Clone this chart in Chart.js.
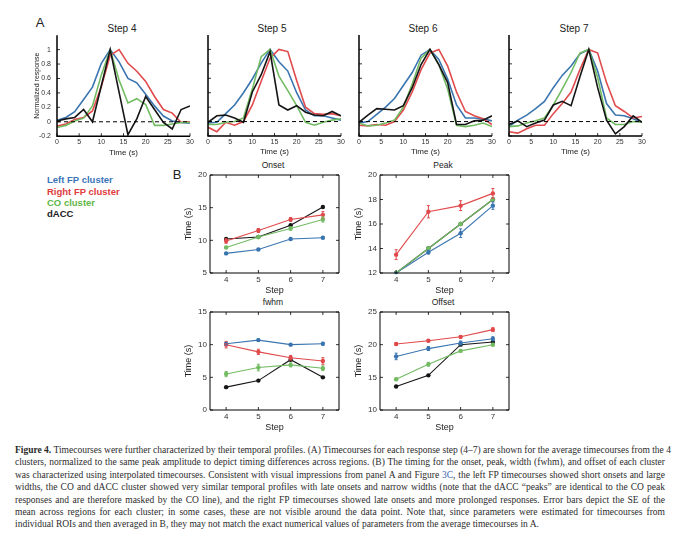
<!DOCTYPE html>
<html><head><meta charset="utf-8">
<script src="https://cdn.jsdelivr.net/npm/chart.js@4.4.1/dist/chart.umd.min.js"></script>
<style>
html,body{margin:0;padding:0;background:#fff;}
body{width:696px;height:560px;position:relative;overflow:hidden;font-family:"Liberation Sans",Arial,sans-serif;color:#222;}
.abs{position:absolute;}
.ctr{position:absolute;transform:translate(-50%,-50%);white-space:nowrap;}
.lg{position:absolute;font-weight:bold;font-size:9.5px;white-space:nowrap;transform:translateY(-50%);}
#cap{position:absolute;left:15px;top:444px;width:650px;font-family:"Liberation Serif","Times New Roman",serif;font-size:9.5px;line-height:12.4px;color:#2b2b2b;}
#cap div{text-align:justify;text-align-last:justify;white-space:nowrap;}
#cap div.last{text-align:left;text-align-last:left;}
</style></head><body>

<div class="ctr" style="left:40px;top:22px;font-size:13px;">A</div>
<div class="ctr" style="left:177px;top:174px;font-size:13px;">B</div>

<div class="ctr" style="left:122px;top:28px;font-size:10px;">Step 4</div>
<div class="ctr" style="left:272px;top:28px;font-size:10px;">Step 5</div>
<div class="ctr" style="left:423px;top:28px;font-size:10px;">Step 6</div>
<div class="ctr" style="left:574px;top:28px;font-size:10px;">Step 7</div>

<div class="ctr" style="left:273px;top:165px;font-size:8.5px;">Onset</div>
<div class="ctr" style="left:443px;top:165px;font-size:8.5px;">Peak</div>
<div class="ctr" style="left:273px;top:302px;font-size:8.5px;">fwhm</div>
<div class="ctr" style="left:443px;top:302px;font-size:8.5px;">Offset</div>

<div class="lg" style="left:47px;top:179px;color:#3a75b9;">Left FP cluster</div>
<div class="lg" style="left:47px;top:190.5px;color:#e03c3c;">Right FP cluster</div>
<div class="lg" style="left:47px;top:201.5px;color:#62b548;">CO cluster</div>
<div class="lg" style="left:47px;top:212.5px;color:#1a1a1a;">dACC</div>

<div id="cap">
<div><b>Figure 4.</b> Timecourses were further characterized by their temporal profiles. (A) Timecourses for each response step (4–7) are shown for the average timecourses from the 4</div>
<div>clusters, normalized to the same peak amplitude to depict timing differences across regions. (B) The timing for the onset, peak, width (fwhm), and offset of each cluster</div>
<div>was characterized using interpolated timecourses. Consistent with visual impressions from panel A and Figure <span style="color:#3a62b0">3C</span>, the left FP timecourses showed short onsets and large</div>
<div>widths, the CO and dACC cluster showed very similar temporal profiles with late onsets and narrow widths (note that the dACC “peaks” are identical to the CO peak</div>
<div>responses and are therefore masked by the CO line), and the right FP timecourses showed late onsets and more prolonged responses. Error bars depict the SE of the</div>
<div>mean across regions for each cluster; in some cases, these are not visible around the data point. Note that, since parameters were estimated for timecourses from</div>
<div class="last">individual ROIs and then averaged in B, they may not match the exact numerical values of parameters from the average timecourses in A.</div>
</div>

<script>
// ---------- DATA ----------
const times = [0,2,4,6,8,10,12,14,16,18,20,22,24,26,28,30];
const timeTicks = [0,5,10,15,20,25,30];
const respTicks = [-0.2,0,0.2,0.4,0.6,0.8,1];

// Panel A: normalized timecourses (Left FP = blue, Right FP = red, CO = green, dACC = black)
const step4Left  = [0.02,0.06,0.14,0.31,0.48,0.81,1.0,0.83,0.60,0.54,0.38,0.22,0.08,0.01,-0.01,-0.02];
const step4Right = [-0.06,-0.03,0.03,0.06,0.15,0.49,0.92,1.0,0.81,0.70,0.56,0.35,0.17,0.12,-0.01,0.0];
const step4CO    = [-0.08,-0.05,0.01,0.05,0.22,0.65,1.0,0.58,0.26,0.32,0.24,-0.05,-0.05,-0.03,-0.01,-0.01];
const step4dACC  = [0.01,0.04,0.06,0.17,0.0,0.50,1.0,0.41,-0.18,0.04,0.35,0.17,-0.01,-0.10,0.17,0.22];

const step5Left  = [-0.02,-0.01,0.11,0.23,0.40,0.59,0.81,1.0,0.83,0.70,0.40,0.16,0.08,0.08,0.05,0.02];
const step5Right = [-0.08,-0.14,-0.01,-0.05,0.0,0.23,0.56,0.88,1.0,0.97,0.57,0.20,0.11,0.10,0.11,0.08];
const step5CO    = [-0.04,-0.04,-0.01,0.0,0.05,0.45,0.90,1.0,0.63,0.43,0.22,-0.01,-0.05,-0.01,0.02,0.04];
const step5dACC  = [-0.01,0.08,0.09,0.05,-0.01,0.41,0.65,0.97,0.23,0.16,0.22,0.13,0.09,0.08,0.14,0.08];

const step6Left  = [-0.02,0.0,0.10,0.20,0.32,0.50,0.68,0.92,1.0,0.86,0.59,0.23,0.05,0.05,0.04,0.01];
const step6Right = [-0.05,-0.06,-0.04,-0.05,0.0,0.16,0.41,0.72,0.95,1.0,0.77,0.41,0.14,0.08,0.04,-0.04];
const step6CO    = [-0.02,-0.06,-0.05,-0.02,0.02,0.20,0.52,0.88,1.0,0.79,0.45,-0.05,-0.07,-0.05,-0.02,-0.07];
const step6dACC  = [-0.01,0.09,0.18,0.17,0.16,0.22,0.47,0.79,1.0,0.79,0.54,-0.04,-0.04,0.01,0.02,0.08];

const step7Left  = [-0.07,0.02,0.09,0.18,0.28,0.47,0.64,0.77,0.94,1.0,0.70,0.25,0.09,0.08,0.04,-0.01];
const step7Right = [-0.14,-0.16,-0.10,-0.05,-0.05,0.11,0.25,0.41,0.72,1.0,0.95,0.54,0.22,0.14,0.05,0.07];
const step7CO    = [-0.07,-0.06,-0.02,0.01,0.05,0.23,0.45,0.68,0.95,1.0,0.61,0.05,-0.04,-0.04,0.0,-0.01];
const step7dACC  = [-0.04,0.01,-0.07,-0.02,0.02,0.23,0.28,0.22,0.62,1.0,0.47,0.02,-0.17,-0.07,0.08,-0.01];

// Panel B: timing parameters per step (s) and their SE
const steps = [4,5,6,7];
const onsetLeft  = [8.0,8.6,10.2,10.4];   const onsetLeftSE  = [0.1,0.15,0.15,0.15];
const onsetRight = [9.9,11.5,13.2,13.9];  const onsetRightSE = [0.35,0.3,0.3,0.5];
const onsetCO    = [8.9,10.5,11.8,13.2];  const onsetCOSE    = [0.15,0.2,0.25,0.4];
const onsetdACC  = [10.2,10.5,12.3,15.1];

const peakLeft   = [12.0,13.7,15.25,17.5]; const peakLeftSE  = [0.05,0.15,0.35,0.3];
const peakRight  = [13.5,17.0,17.5,18.5];  const peakRightSE = [0.4,0.5,0.4,0.4];
const peakCO     = [12.0,14.0,16.0,18.0];  const peakCOSE    = [0.05,0.1,0.1,0.1];
const peakdACC   = [12.0,14.0,16.0,18.0];

const fwhmLeft   = [10.15,10.7,10.0,10.15]; const fwhmLeftSE  = [0.2,0.2,0.15,0.2];
const fwhmRight  = [10.0,8.9,8.0,7.5];      const fwhmRightSE = [0.5,0.4,0.35,0.5];
const fwhmCO     = [5.5,6.5,6.9,6.4];       const fwhmCOSE    = [0.4,0.5,0.3,0.35];
const fwhmdACC   = [3.5,4.5,7.7,5.0];

const offsetLeft  = [18.2,19.4,20.25,20.9]; const offsetLeftSE  = [0.5,0.3,0.3,0.3];
const offsetRight = [20.1,20.6,21.2,22.3];  const offsetRightSE = [0.2,0.15,0.2,0.3];
const offsetCO    = [14.7,17.0,19.05,20.0]; const offsetCOSE    = [0.2,0.3,0.2,0.2];
const offsetdACC  = [13.6,15.3,20.0,20.4];

// ---------- STYLE ----------
const BLUE='#3a75b0', RED='#e04a4c', GREEN='#73bb63', BLACK='#151515';
Chart.defaults.font.family = "'Liberation Sans', Arial, sans-serif";
Chart.defaults.color = '#222';
Chart.defaults.animation = false;

const framePlugin = {
  id: 'frame',
  afterDraw(chart, args, o) {
    const {ctx, chartArea: a} = chart;
    const x = chart.scales.x, y = chart.scales.y;
    const L = 3;
    ctx.save();
    ctx.strokeStyle = '#000';
    ctx.lineWidth = o.lw || 1;
    ctx.beginPath();
    if (o.box) {
      ctx.rect(a.left, a.top, a.right - a.left, a.bottom - a.top);
    } else {
      ctx.moveTo(a.left, a.top); ctx.lineTo(a.left, a.bottom); ctx.lineTo(a.right, a.bottom);
    }
    ctx.stroke();
    ctx.lineWidth = 0.8;
    ctx.beginPath();
    x.ticks.forEach(t => {
      const px = x.getPixelForValue(t.value);
      ctx.moveTo(px, a.bottom); ctx.lineTo(px, a.bottom - L);
      if (o.box) { ctx.moveTo(px, a.top); ctx.lineTo(px, a.top + L); }
    });
    y.ticks.forEach(t => {
      const py = y.getPixelForValue(t.value);
      ctx.moveTo(a.left, py); ctx.lineTo(a.left + L, py);
      if (o.box) { ctx.moveTo(a.right, py); ctx.lineTo(a.right - L, py); }
    });
    ctx.stroke();
    ctx.restore();
  }
};

const errorBarPlugin = {
  id: 'errbars',
  afterDatasetsDraw(chart) {
    const {ctx} = chart;
    const x = chart.scales.x, y = chart.scales.y;
    ctx.save();
    chart.data.datasets.forEach(ds => {
      if (!ds.errors) return;
      ctx.strokeStyle = ds.borderColor;
      ctx.lineWidth = 1;
      ds.data.forEach((p, i) => {
        const e = ds.errors[i];
        if (!e) return;
        const px = x.getPixelForValue(p.x);
        const y1 = y.getPixelForValue(p.y - e), y2 = y.getPixelForValue(p.y + e);
        ctx.beginPath();
        ctx.moveTo(px, y1); ctx.lineTo(px, y2);
        ctx.moveTo(px - 1.5, y1); ctx.lineTo(px + 1.5, y1);
        ctx.moveTo(px - 1.5, y2); ctx.lineTo(px + 1.5, y2);
        ctx.stroke();
      });
    });
    ctx.restore();
  }
};

function makeChart(box, cfg) {
  const wrap = document.createElement('div');
  wrap.className = 'abs';
  wrap.style.left = (box.x - 40) + 'px';
  wrap.style.top = (box.y - 10) + 'px';
  wrap.style.width = (box.w + 60) + 'px';
  wrap.style.height = (box.h + 45) + 'px';
  const cv = document.createElement('canvas');
  wrap.appendChild(cv);
  document.body.appendChild(wrap);
  cfg.options.responsive = true;
  cfg.options.maintainAspectRatio = false;
  cfg.options.events = [];
  const chart = new Chart(cv, cfg);
  let ca = chart.chartArea;
  wrap.style.width = (chart.width - (ca.right - ca.left) + box.w) + 'px';
  wrap.style.height = (chart.height - (ca.bottom - ca.top) + box.h) + 'px';
  chart.resize();
  ca = chart.chartArea;
  wrap.style.left = (box.x - ca.left) + 'px';
  wrap.style.top = (box.y - ca.top) + 'px';
  return chart;
}

// ---------- PANEL A ----------
function tcLine(arr, color) {
  return { data: times.map((t, i) => ({x: t, y: arr[i]})), borderColor: color, backgroundColor: color,
           borderWidth: 1.6, pointRadius: 0, tension: 0, fill: false };
}
function panelA(box, series, showY) {
  const [l, r, c, d] = series;
  const datasets = [
    { data: [{x: 0, y: 0}, {x: 30, y: 0}], borderColor: '#000', borderWidth: 1, borderDash: [4, 3], pointRadius: 0 },
    tcLine(d, BLACK), tcLine(c, GREEN), tcLine(r, RED), tcLine(l, BLUE)
  ];
  return makeChart(box, {
    type: 'line',
    data: { datasets },
    plugins: [framePlugin],
    options: {
      layout: { padding: { top: 8, right: 12, left: 0, bottom: 0 } },
      plugins: { legend: { display: false }, tooltip: { enabled: false }, frame: { box: false, lw: 1.5 } },
      scales: {
        x: {
          type: 'linear', min: 0, max: 30,
          afterBuildTicks: s => { s.ticks = timeTicks.map(v => ({value: v})); },
          afterFit: s => { s.height = 21; },
          grid: { display: false, drawTicks: false }, border: { display: false },
          ticks: { font: { size: 7 }, padding: 2, maxRotation: 0, autoSkip: false, color: '#333' },
          title: { display: true, text: 'Time (s)', font: { size: 8 }, padding: 0, color: '#222' }
        },
        y: {
          min: -0.2, max: 1.2,
          afterBuildTicks: s => { s.ticks = respTicks.map(v => ({value: v})); },
          afterFit: s => { s.width = showY ? 24 : 4; },
          grid: { display: false, drawTicks: false }, border: { display: false },
          ticks: { display: showY, font: { size: 7 }, padding: 6, autoSkip: false, color: '#333',
                   callback: v => String(Math.round(v * 10) / 10) },
          title: { display: showY, text: 'Normalized response', font: { size: 7 }, padding: 0, color: '#222' }
        }
      }
    }
  });
}
panelA({x: 57, y: 35, w: 133, h: 101}, [step4Left, step4Right, step4CO, step4dACC], true);
panelA({x: 208, y: 35, w: 133, h: 101}, [step5Left, step5Right, step5CO, step5dACC], false);
panelA({x: 359, y: 35, w: 133, h: 101}, [step6Left, step6Right, step6CO, step6dACC], false);
panelA({x: 509, y: 35, w: 133, h: 101}, [step7Left, step7Right, step7CO, step7dACC], false);

// ---------- PANEL B ----------
function parLine(arr, err, color) {
  return { data: steps.map((s, i) => ({x: s, y: arr[i]})), errors: err || null,
           borderColor: color, backgroundColor: color, borderWidth: 1.1,
           pointRadius: 2.2, pointBorderWidth: 0, pointBackgroundColor: color, tension: 0, fill: false };
}
function panelB(box, yMin, yMax, yStep, datasets) {
  const yTicks = [];
  for (let v = yMin; v <= yMax + 1e-9; v += yStep) yTicks.push(v);
  return makeChart(box, {
    type: 'line',
    data: { datasets },
    plugins: [framePlugin, errorBarPlugin],
    options: {
      layout: { padding: { top: 8, right: 12, left: 0, bottom: 0 } },
      plugins: { legend: { display: false }, tooltip: { enabled: false }, frame: { box: true, lw: 1 } },
      scales: {
        x: {
          type: 'linear', min: 3.5, max: 7.5,
          afterBuildTicks: s => { s.ticks = steps.map(v => ({value: v})); },
          afterFit: s => { s.height = 23; },
          grid: { display: false, drawTicks: false }, border: { display: false },
          ticks: { font: { size: 8 }, padding: 2, autoSkip: false, maxRotation: 0, color: '#333' },
          title: { display: true, text: 'Step', font: { size: 9 }, padding: 0, color: '#222' }
        },
        y: {
          min: yMin, max: yMax,
          afterBuildTicks: s => { s.ticks = yTicks.map(v => ({value: v})); },
          afterFit: s => { s.width = 27; },
          grid: { display: false, drawTicks: false }, border: { display: false },
          ticks: { font: { size: 8 }, padding: 3, autoSkip: false, color: '#333' },
          title: { display: true, text: 'Time (s)', font: { size: 9 }, padding: 0, color: '#222' }
        }
      }
    }
  });
}
panelB({x: 210, y: 175, w: 129, h: 98}, 5, 20, 5, [
  parLine(onsetRight, onsetRightSE, RED), parLine(onsetCO, onsetCOSE, GREEN),
  parLine(onsetLeft, onsetLeftSE, BLUE), parLine(onsetdACC, null, BLACK)
]);
panelB({x: 380, y: 175, w: 129, h: 98}, 12, 20, 2, [
  parLine(peakCO, peakCOSE, GREEN), parLine(peakRight, peakRightSE, RED),
  parLine(peakLeft, peakLeftSE, BLUE), parLine(peakdACC, null, BLACK)
]);
panelB({x: 210, y: 312, w: 129, h: 98}, 0, 15, 5, [
  parLine(fwhmRight, fwhmRightSE, RED), parLine(fwhmCO, fwhmCOSE, GREEN),
  parLine(fwhmLeft, fwhmLeftSE, BLUE), parLine(fwhmdACC, null, BLACK)
]);
panelB({x: 380, y: 312, w: 129, h: 98}, 10, 25, 5, [
  parLine(offsetRight, offsetRightSE, RED), parLine(offsetLeft, offsetLeftSE, BLUE),
  parLine(offsetCO, offsetCOSE, GREEN), parLine(offsetdACC, null, BLACK)
]);
</script>
</body></html>
